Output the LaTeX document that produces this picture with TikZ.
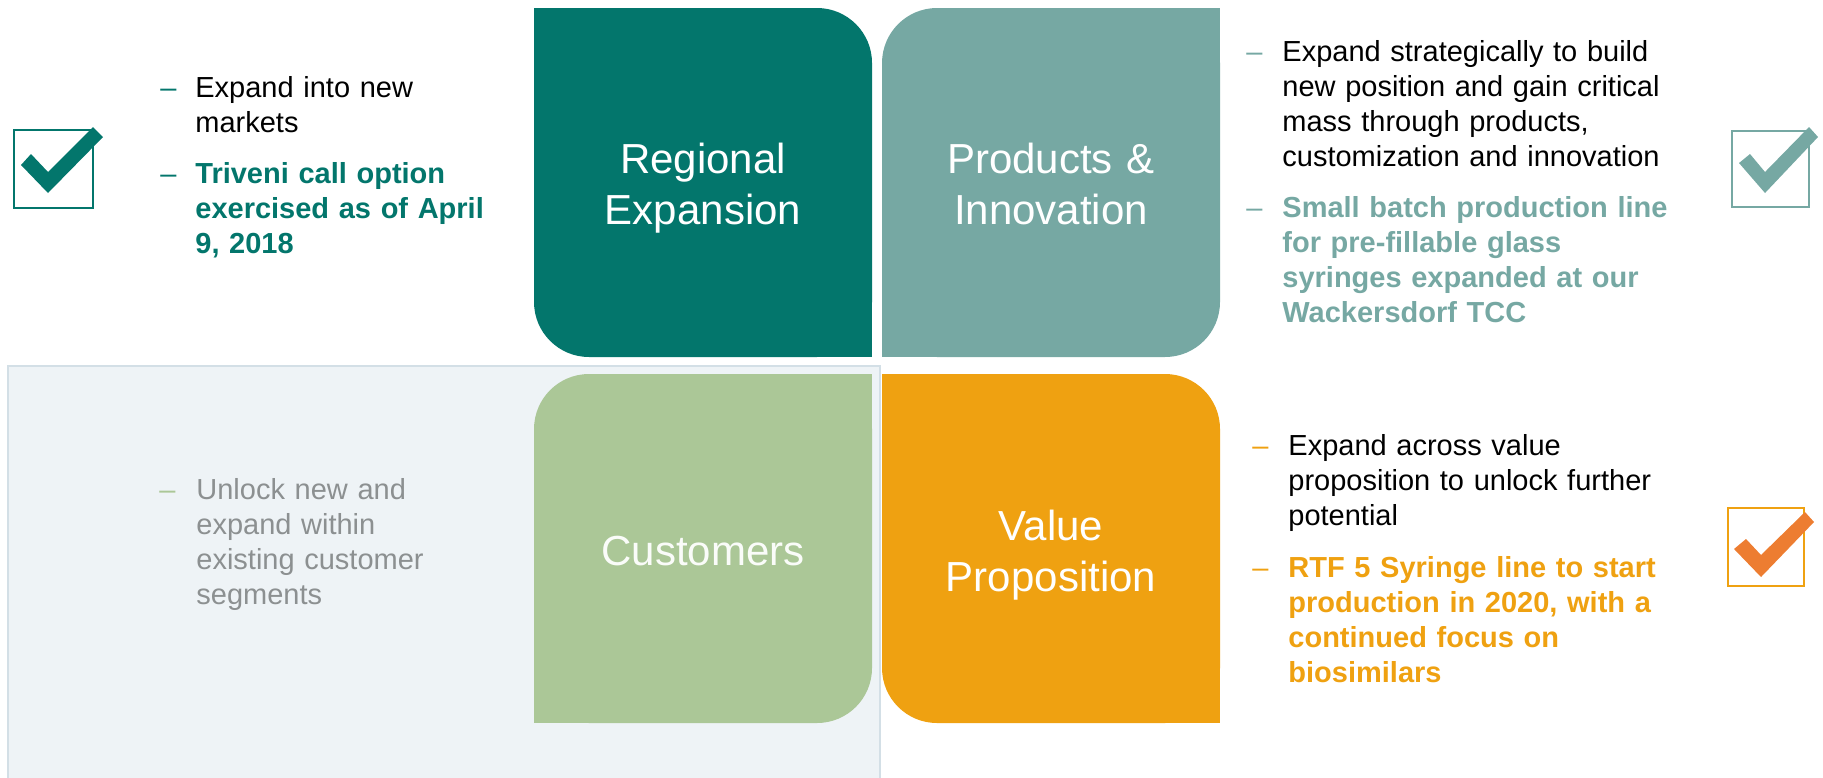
\documentclass[tikz,border=0pt]{standalone}
\usepackage{fontspec}
\setmainfont{Liberation Sans}
\usepackage{tikz}
\usetikzlibrary{positioning}
\definecolor{regclr}{HTML}{03766C}
\definecolor{prodclr}{HTML}{76A8A3}
\definecolor{custclr}{HTML}{ABC797}
\definecolor{valclr}{HTML}{EFA111}
\definecolor{bgfill}{HTML}{EEF3F6}
\definecolor{bgedge}{HTML}{D3DFE6}
\definecolor{grytxt}{HTML}{8C9091}
\definecolor{tickorange}{HTML}{ED7D31}
\tikzset{
quad/.style = {minimum width=169pt, minimum height=174.5pt, rounded corners=27.5pt,
    inner sep=0pt, outer sep=0pt},
quadlabel/.style = {anchor=base, inner sep=0pt, text width=160pt, align=center,
    text=white, font=\fontsize{21}{25.5}\selectfont},
bulletmark/.style = {anchor=base west, inner sep=0pt, font=\fontsize{14.5}{17.5}\selectfont},
sidetext/.style = {anchor=base west, inner sep=0pt, text width=240pt, align=left,
    font=\fontsize{14.5}{17.5}\selectfont},
tickframe/.style = {line width=1pt}
}

\begin{document}
\begin{tikzpicture}[x=0.5pt, y=-0.5pt]
    \useasboundingbox (0,0) rectangle (1823,777);
    % grey panel behind the customers quadrant
    \draw [bgedge, fill=bgfill, line width=0.75pt] (8,366) rectangle (880,790);

    % We start by placing the four quadrants
    \node [quad, fill=regclr] at (703,182.5) (reg) {};
    \node [quad, fill=prodclr, right=5pt of reg] (prod) {};
    \node [quad, fill=custclr, below=8.5pt of reg] (cust) {};
    \node [quad, fill=valclr, right=5pt of cust] (val) {};

    % square off the corners that are not rounded
    \fill [regclr] (reg.north west) rectangle ++(60,60);
    \fill [regclr] (reg.south east) rectangle ++(-60,-60);
    \fill [prodclr] (prod.north east) rectangle ++(-60,60);
    \fill [prodclr] (prod.south west) rectangle ++(60,-60);
    \fill [custclr] (cust.north east) rectangle ++(-60,60);
    \fill [custclr] (cust.south west) rectangle ++(60,-60);
    \fill [valclr] (val.north west) rectangle ++(60,60);
    \fill [valclr] (val.south east) rectangle ++(-60,-60);

    % quadrant titles
    \node [quadlabel] at ([yshift=4.75pt]reg.center) (reglbl) {Regional\\Expansion};
    \node [quadlabel] at ([yshift=4.75pt]prod.center) (prodlbl) {Products \&\\Innovation};
    \node [quadlabel, text=white!94!custclr] at ([yshift=-8.5pt]cust.center) (custlbl) {Customers};
    \node [quadlabel] at ([yshift=4pt]val.center) (vallbl) {Value\\Proposition};

    % text beside the quadrants
    \node [bulletmark, text=regclr] at (160,97) (regdashA) {–};
    \node [sidetext] at (195,97) (regtxtA) {Expand into new\\markets};
    \node [bulletmark, text=regclr] at (160,183) (regdashB) {–};
    \node [sidetext, text=regclr, font=\fontsize{14.5}{17.5}\selectfont\bfseries] at (195,183) (regtxtB)
        {Triveni call option\\exercised as of April\\9, 2018};

    \node [bulletmark, text=prodclr] at (1246,61) (proddashA) {–};
    \node [sidetext] at (1282,61) (prodtxtA)
        {Expand strategically to build\\new position and gain critical\\mass through products,\\customization and innovation};
    \node [bulletmark, text=prodclr] at (1246,217) (proddashB) {–};
    \node [sidetext, text=prodclr, font=\fontsize{14.5}{17.5}\selectfont\bfseries] at (1282,217) (prodtxtB)
        {Small batch production line\\for pre-fillable glass\\syringes expanded at our\\Wackersdorf TCC};

    \node [bulletmark, text=custclr] at (159,499) (custdash) {–};
    \node [sidetext, text=grytxt] at (196,499) (custtxt)
        {Unlock new and\\expand within\\existing customer\\segments};

    \node [bulletmark, text=valclr] at (1252,455) (valdashA) {–};
    \node [sidetext] at (1288,455) (valtxtA)
        {Expand across value\\proposition to unlock further\\potential};
    \node [bulletmark, text=valclr] at (1252,577) (valdashB) {–};
    \node [sidetext, text=valclr, font=\fontsize{14.5}{17.5}\selectfont\bfseries] at (1288,577) (valtxtB)
        {RTF 5 Syringe line to start\\production in 2020, with a\\continued focus on\\biosimilars};

    % tick boxes
    \draw [tickframe, regclr] (14,130) rectangle (93,208);
    \fill [regclr, shift={(14,130)}] (7,35) -- (17,24) -- (34,42) -- (79,-3) -- (89,7) -- (34,63) -- cycle;
    \draw [tickframe, prodclr] (1732,131) rectangle (1809,207);
    \fill [prodclr, shift={(1732,131)}] (7,32) -- (18,23) -- (33,41) -- (77,-4) -- (86,6) -- (33,62) -- cycle;
    \draw [tickframe, valclr] (1728,508) rectangle (1804,586);
    \fill [tickorange, shift={(1728,508)}] (6,41) -- (18,31) -- (33,47) -- (77,4) -- (86,14) -- (33,69) -- cycle;
\end{tikzpicture}
\end{document}
